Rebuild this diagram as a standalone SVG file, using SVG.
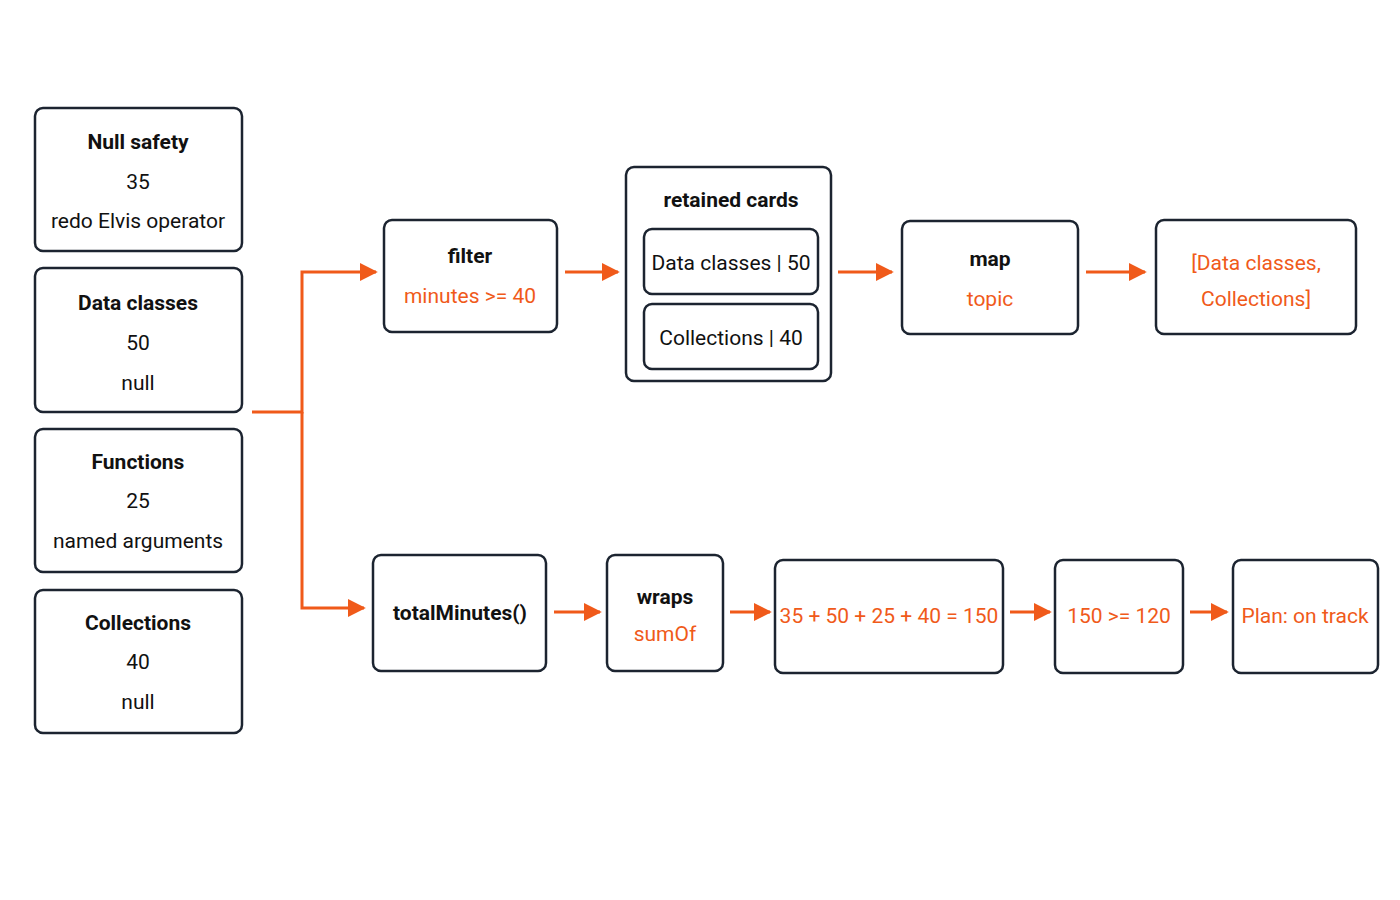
<svg xmlns="http://www.w3.org/2000/svg" width="1400" height="900" viewBox="0 0 1400 900">
<defs>
<style>
.b{fill:#fff;stroke:#1c2430;stroke-width:2.5}
.t{font-family:Roboto,"Liberation Sans",sans-serif;font-size:21px;fill:#111;text-anchor:middle}
.h{font-weight:bold}
.o{fill:#f05a1a}
.c{fill:none;stroke:#f05a1a;stroke-width:3}
</style>
<marker id="m" viewBox="0 0 10 10" refX="9" refY="5" markerWidth="18" markerHeight="18" markerUnits="userSpaceOnUse" orient="auto"><path d="M0,0L10,5L0,10z" fill="#f05a1a"/></marker>
</defs>
<rect width="1400" height="900" fill="#fff"/>
<g id="connectors">
<path class="c" d="M252,412H302V272H376" marker-end="url(#m)"/>
<path class="c" d="M302,412V608H364" marker-end="url(#m)"/>
<path class="c" d="M565,272H618" marker-end="url(#m)"/>
<path class="c" d="M838,272H892" marker-end="url(#m)"/>
<path class="c" d="M1086,272H1145" marker-end="url(#m)"/>
<path class="c" d="M554,612H600" marker-end="url(#m)"/>
<path class="c" d="M730,612H770" marker-end="url(#m)"/>
<path class="c" d="M1010,612H1050" marker-end="url(#m)"/>
<path class="c" d="M1190,612H1227" marker-end="url(#m)"/>
</g>
<g id="n1"><rect class="b" x="35" y="108" width="207" height="143" rx="8"/><text class="t h" x="138" y="149">Null safety</text><text class="t" x="138" y="189">35</text><text class="t" x="138" y="228">redo Elvis operator</text></g>
<g id="n2"><rect class="b" x="35" y="268" width="207" height="144" rx="8"/><text class="t h" x="138" y="310">Data classes</text><text class="t" x="138" y="350">50</text><text class="t" x="138" y="390">null</text></g>
<g id="n3"><rect class="b" x="35" y="429" width="207" height="143" rx="8"/><text class="t h" x="138" y="469">Functions</text><text class="t" x="138" y="508">25</text><text class="t" x="138" y="548">named arguments</text></g>
<g id="n4"><rect class="b" x="35" y="590" width="207" height="143" rx="8"/><text class="t h" x="138" y="630">Collections</text><text class="t" x="138" y="669">40</text><text class="t" x="138" y="709">null</text></g>
<g id="filter"><rect class="b" x="384" y="220" width="173" height="112" rx="8"/><text class="t h" x="470" y="263">filter</text><text class="t o" x="470" y="303">minutes &gt;= 40</text></g>
<g id="retained"><rect class="b" x="626" y="167" width="205" height="214" rx="8"/><text class="t h" x="731" y="207">retained cards</text>
<rect class="b" x="644" y="229" width="174" height="65" rx="8"/><text class="t" x="731" y="270">Data classes | 50</text>
<rect class="b" x="644" y="304" width="174" height="65" rx="8"/><text class="t" x="731" y="345">Collections | 40</text></g>
<g id="map"><rect class="b" x="902" y="221" width="176" height="113" rx="8"/><text class="t h" x="990" y="266">map</text><text class="t o" x="990" y="306">topic</text></g>
<g id="result"><rect class="b" x="1156" y="220" width="200" height="114" rx="8"/><text class="t o" x="1256" y="270">[Data classes,</text><text class="t o" x="1256" y="306">Collections]</text></g>
<g id="total"><rect class="b" x="373" y="555" width="173" height="116" rx="8"/><text class="t h" x="460" y="620">totalMinutes()</text></g>
<g id="wraps"><rect class="b" x="607" y="555" width="116" height="116" rx="8"/><text class="t h" x="665" y="604">wraps</text><text class="t o" x="665" y="641">sumOf</text></g>
<g id="sum"><rect class="b" x="775" y="560" width="228" height="113" rx="8"/><text class="t o" x="889" y="623">35 + 50 + 25 + 40 = 150</text></g>
<g id="cmp"><rect class="b" x="1055" y="560" width="128" height="113" rx="8"/><text class="t o" x="1119" y="623">150 &gt;= 120</text></g>
<g id="plan"><rect class="b" x="1233" y="560" width="145" height="113" rx="8"/><text class="t o" x="1305" y="623">Plan: on track</text></g>
</svg>
